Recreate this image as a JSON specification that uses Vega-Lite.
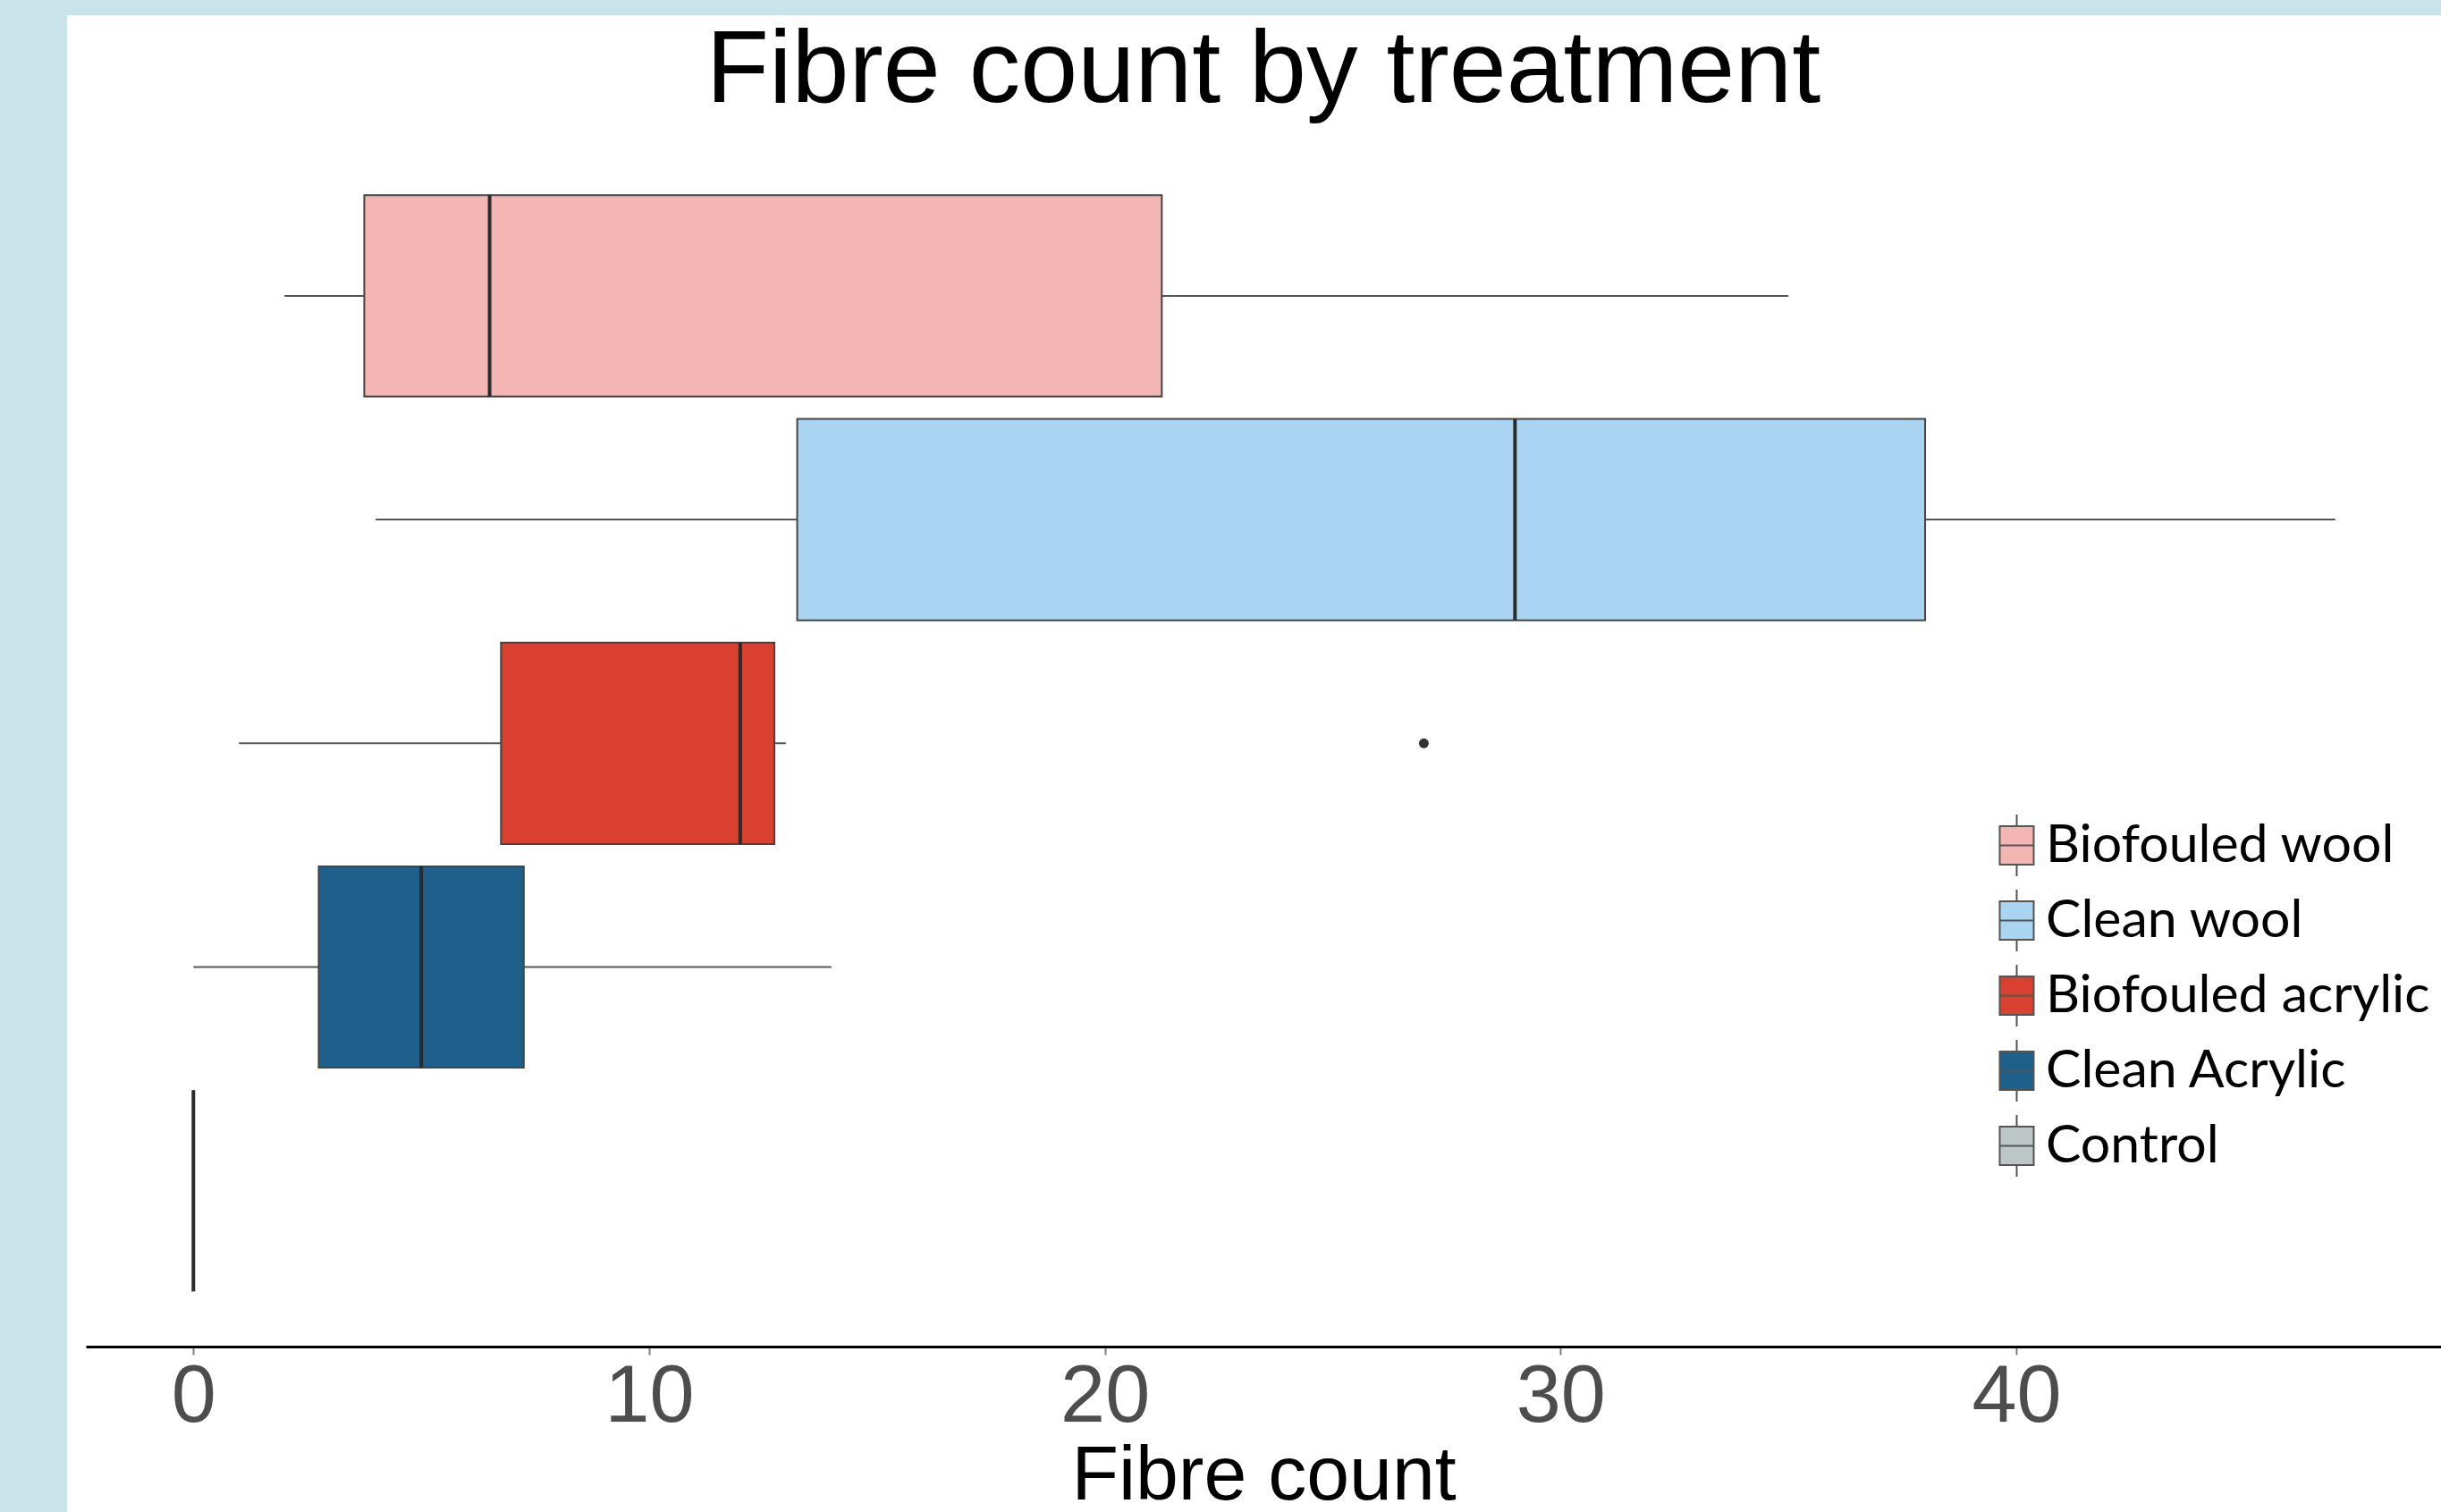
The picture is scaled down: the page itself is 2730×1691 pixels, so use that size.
{
  "$schema": "https://vega.github.io/schema/vega-lite/v6.json",
  "autosize": {"type": "none"},
  "padding": {"left": 96, "top": 38, "right": 0, "bottom": 21},
  "width": 2634,
  "height": 1632,
  "background": "#C9E3EA",
  "config": {
    "view": {"fill": "white", "stroke": "white", "strokeWidth": 42}
  },
  "title": {
    "text": "Fibre count by treatment",
    "font": "Liberation Sans",
    "fontSize": 115,
    "fontWeight": "normal",
    "color": "#000000",
    "anchor": "middle",
    "frame": "group",
    "baseline": "alphabetic",
    "offset": 0,
    "dy": 191
  },
  "datasets": {
    "boxes": [
      {"treatment": "Biofouled wool", "lower": 2, "q1": 3.75, "median": 6.5, "q3": 21.25, "upper": 35},
      {"treatment": "Clean wool", "lower": 4, "q1": 13.25, "median": 29, "q3": 38, "upper": 47},
      {"treatment": "Biofouled acrylic", "lower": 1, "q1": 6.75, "median": 12, "q3": 12.75, "upper": 13},
      {"treatment": "Clean Acrylic", "lower": 0, "q1": 2.75, "median": 5, "q3": 7.25, "upper": 14},
      {"treatment": "Control", "lower": 0, "q1": 0, "median": 0, "q3": 0, "upper": 0}
    ],
    "outliers": [
      {"treatment": "Biofouled acrylic", "count": 27}
    ]
  },
  "layer": [
    {
      "data": {"name": "boxes"},
      "mark": {"type": "rule", "color": "#555555", "strokeWidth": 2},
      "encoding": {
        "x": {
          "field": "lower",
          "type": "quantitative",
          "title": "Fibre count",
          "scale": {"domain": [-2.36, 49.32], "nice": false, "zero": false},
          "axis": {
            "values": [0, 10, 20, 30, 40],
            "offset": -164,
            "grid": false,
            "domainColor": "#000000",
            "domainWidth": 3,
            "tickColor": "#7F7F7F",
            "tickWidth": 2,
            "tickSize": 9,
            "labelFont": "Liberation Sans",
            "labelFontSize": 90,
            "labelColor": "#4D4D4D",
            "labelPadding": 3,
            "titleFont": "Liberation Sans",
            "titleFontSize": 86,
            "titleFontWeight": "normal",
            "titleColor": "#000000",
            "titlePadding": 1
          }
        },
        "x2": {"field": "upper"},
        "y": {
          "field": "treatment",
          "type": "nominal",
          "sort": ["Biofouled wool", "Clean wool", "Biofouled acrylic", "Clean Acrylic", "Control"],
          "scale": {"paddingInner": 0.1, "paddingOuter": 0.8113, "align": 0.4441},
          "axis": null
        }
      }
    },
    {
      "data": {"name": "boxes"},
      "mark": {"type": "bar", "stroke": "#444444", "strokeWidth": 2, "opacity": 1},
      "encoding": {
        "x": {"field": "q1", "type": "quantitative", "title": "Fibre count"},
        "x2": {"field": "q3"},
        "y": {
          "field": "treatment",
          "type": "nominal",
          "sort": ["Biofouled wool", "Clean wool", "Biofouled acrylic", "Clean Acrylic", "Control"],
          "axis": null
        },
        "fill": {
          "field": "treatment",
          "type": "nominal",
          "sort": ["Biofouled wool", "Clean wool", "Biofouled acrylic", "Clean Acrylic", "Control"],
          "scale": {
            "domain": ["Biofouled wool", "Clean wool", "Biofouled acrylic", "Clean Acrylic", "Control"],
            "range": ["#F4B6B2", "#A9D4F2", "#DA4030", "#1F5F8B", "#BEC7C8"]
          },
          "legend": {
            "title": null,
            "orient": "none",
            "legendX": 2130,
            "legendY": 878,
            "direction": "vertical",
            "padding": 0,
            "symbolType": "M-1,-1.13H1V1.13H-1Z M-1,0H1 M0,-1.13V-1.82 M0,1.13V1.82",
            "symbolSize": 1444,
            "symbolStrokeColor": "#555555",
            "symbolStrokeWidth": 2,
            "symbolOpacity": 1,
            "labelFont": "Lato",
            "labelFontSize": 59,
            "labelColor": "#000000",
            "labelOffset": 3,
            "labelLimit": 1000,
            "rowPadding": 5
          }
        }
      }
    },
    {
      "data": {"name": "boxes"},
      "mark": {"type": "tick", "color": "#2B2B2B", "thickness": 4, "size": 225, "opacity": 1},
      "encoding": {
        "x": {"field": "median", "type": "quantitative", "title": "Fibre count"},
        "y": {
          "field": "treatment",
          "type": "nominal",
          "sort": ["Biofouled wool", "Clean wool", "Biofouled acrylic", "Clean Acrylic", "Control"],
          "axis": null
        }
      }
    },
    {
      "data": {"name": "outliers"},
      "mark": {"type": "point", "filled": true, "color": "#333333", "size": 120, "opacity": 1},
      "encoding": {
        "x": {"field": "count", "type": "quantitative", "title": "Fibre count"},
        "y": {
          "field": "treatment",
          "type": "nominal",
          "sort": ["Biofouled wool", "Clean wool", "Biofouled acrylic", "Clean Acrylic", "Control"],
          "axis": null
        }
      }
    }
  ]
}
